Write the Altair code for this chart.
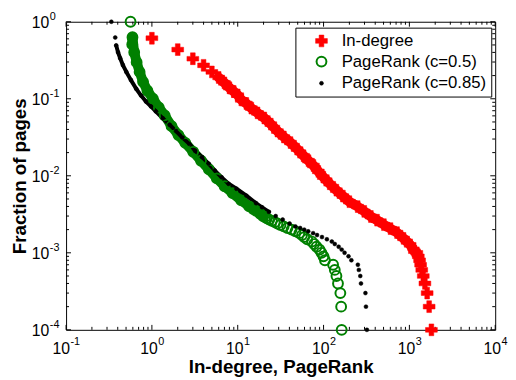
import altair as alt
import pandas as pd

FONT = "Liberation Sans"
series_names = ["In-degree", "PageRank (c=0.5)", "PageRank (c=0.85)"]

# In-degree (red plus): cumulative fraction of pages
indeg_x = [1, 2, 3, 4, 5, 6, 7, 8, 9, 10,
           11.0, 12.6, 14.4, 17.0, 20.4, 24.3, 29.0, 34.5, 41.2, 49.2, 58.5, 66.8, 76.2, 86.9, 99.3,
           118, 141, 168, 200, 250, 298, 356, 420, 505, 603, 718, 855, 1021, 1143,
           1222, 1271, 1315, 1352, 1394, 1452, 1517, 1611, 1699, 1806]
indeg_y = [0.611, 0.435, 0.331, 0.272, 0.223, 0.189, 0.161, 0.139, 0.124, 0.1115,
           0.0968, 0.0868, 0.0756, 0.0656, 0.0563, 0.0468, 0.0381, 0.0319, 0.0270, 0.0222, 0.0182,
           0.0157, 0.0136, 0.0114, 0.00962, 0.00788, 0.00650, 0.00545, 0.00461, 0.00398, 0.00345,
           0.00296, 0.00265, 0.00232, 0.00206, 0.00183, 0.00154, 0.00127, 0.00105,
           0.0010, 0.0009, 0.0008, 0.0007, 0.0006, 0.0005, 0.0004, 0.0003, 0.0002, 0.0001]

# PageRank c=0.5 (green circles)
pr05_x = [0.564, 0.594,
          0.590, 0.622, 0.664, 0.719, 0.789, 0.887, 1.026, 1.203, 1.409, 1.694, 2.038, 2.451,
          3.027, 3.739, 4.616, 5.70, 7.04, 8.69, 11.0, 13.6,
          15.2, 16.4, 18.3, 19.7, 20.8, 21.9, 23.3, 25.0, 27.0, 29.0, 31.5, 34.3, 38.0, 42.4,
          47.0, 52.2, 56.1, 59.6, 64.6, 73.1, 77.6, 82.9, 89.8, 94.6, 99.8, 103.8,
          129.2, 135.2, 141.3, 147.3, 157, 160.3, 162.6]
pr05_y = [1.0, 0.63,
          0.508, 0.402, 0.299, 0.223, 0.166, 0.127, 0.1006, 0.0771, 0.0610, 0.0441, 0.0338, 0.0267,
          0.0205, 0.0157, 0.0121, 0.00927, 0.00732, 0.00596, 0.0048, 0.0040,
          0.0037, 0.0035, 0.0032, 0.0030, 0.0029, 0.0028, 0.0027, 0.0026, 0.0025, 0.0024, 0.0023,
          0.0022, 0.0021, 0.0020, 0.0019, 0.0018, 0.0017, 0.0016, 0.0015, 0.0014, 0.0013, 0.0012,
          0.0011, 0.0010, 0.0009, 0.0008, 0.0007, 0.0006, 0.0005, 0.0004, 0.0003, 0.0002, 0.0001]

# PageRank c=0.85 (black dots)
pr085_x = [0.337, 0.374,
           0.384, 0.403, 0.427, 0.459, 0.504, 0.568, 0.656, 0.748, 0.853, 0.975, 1.111, 1.337,
           1.607, 1.909, 2.265, 2.725, 3.19, 3.84, 4.58, 5.41, 6.50, 7.83, 9.66, 12.6,
           16.4, 19.2, 23.1, 27.7, 33.4, 40.2, 47.0, 53.4, 59.6, 66.3, 75.6, 84.0, 95.9, 109.4,
           124.8, 135.2, 150, 162.6, 175.8, 195.4, 211, 251, 257.8, 268, 273, 307.6, 312, 320]
pr085_y = [1.0, 0.624,
           0.493, 0.402, 0.336, 0.274, 0.223, 0.176, 0.135, 0.110, 0.0921, 0.0795, 0.0686, 0.0558,
           0.0461, 0.0381, 0.0314, 0.0260, 0.0211, 0.0175, 0.0144, 0.0117, 0.00955, 0.00788,
           0.00680, 0.00553,
           0.0044, 0.0039, 0.0034, 0.0030, 0.0027, 0.0024, 0.0022, 0.0021, 0.0020, 0.0019, 0.0018,
           0.0017, 0.0016, 0.0015, 0.0014, 0.0013, 0.0012, 0.0011, 0.0010, 0.0009, 0.0008, 0.0007,
           0.0006, 0.0005, 0.0004, 0.0003, 0.0002, 0.0001]

x_major = [0.1, 1, 10, 100, 1000, 10000]
x_exp = ["-1", "0", "1", "2", "3", "4"]
y_major = [0.0001, 0.001, 0.01, 0.1, 1]
y_exp = ["-4", "-3", "-2", "-1", "0"]

W, H = 436, 313

x_minor = [d * m for d in x_major[:-1] for m in range(2, 10)]
y_minor = [d * m for d in y_major[:-1] for m in range(2, 10)]


def frame(xs, ys, name):
    return pd.DataFrame({"x": xs, "y": ys, "series": name})


pts = pd.concat([frame(indeg_x, indeg_y, series_names[0]),
                 frame(pr05_x, pr05_y, series_names[1]),
                 frame(pr085_x, pr085_y, series_names[2])], ignore_index=True)

band_ranges = [(series_names[0], 6, 1222, "#ff0000", 10),
               (series_names[1], 0.58, 20, "#008000", 10),
               (series_names[2], 0.38, 24, "#000000", 4)]

xscale = alt.Scale(type="log", domain=[0.1, 10000], nice=False)
yscale = alt.Scale(type="log", domain=[0.0001, 1], nice=False)

xaxis = alt.Axis(labels=False, ticks=False, domain=False, grid=False,
                 title="In-degree, PageRank", titleX=W / 2, titleY=43,
                 titleBaseline="alphabetic", titleAlign="center", titleFontSize=19,
                 titleFontWeight="bold", titleFont=FONT, titleColor="black")
yaxis = alt.Axis(labels=False, ticks=False, domain=False, grid=False,
                 title="Fraction of pages", titleAngle=270, titleX=-41, titleY=H / 2,
                 titleBaseline="alphabetic", titleAlign="center", titleFontSize=19,
                 titleFontWeight="bold", titleFont=FONT, titleColor="black")


def X(field):
    return alt.X(field, scale=xscale, axis=xaxis, title="In-degree, PageRank")


def Y(field):
    return alt.Y(field, scale=yscale, axis=yaxis, title="Fraction of pages")


layers = []


# inward ticks on all four sides
def tick_layer(vals, orient, length):
    d = pd.DataFrame({"v": vals})
    base = alt.Chart(d).mark_rule(color="black", strokeWidth=1)
    if orient == "bottom":
        return base.encode(x=X("v:Q"), y=alt.value(H), y2=alt.value(H - length))
    if orient == "top":
        return base.encode(x=X("v:Q"), y=alt.value(0), y2=alt.value(length))
    if orient == "left":
        return base.encode(y=Y("v:Q"), x=alt.value(0), x2=alt.value(length))
    return base.encode(y=Y("v:Q"), x=alt.value(W), x2=alt.value(W - length))


for o in ["bottom", "top"]:
    layers.append(tick_layer(x_major, o, 5))
    layers.append(tick_layer(x_minor, o, 3))
for o in ["left", "right"]:
    layers.append(tick_layer(y_major, o, 5))
    layers.append(tick_layer(y_minor, o, 3))

# dense parts of each curve
for name, lo, hi, col, sw in band_ranges:
    sub = pts[(pts.series == name) & (pts.x >= lo) & (pts.x <= hi)]
    layers.append(alt.Chart(sub).mark_line(color=col, strokeWidth=sw, strokeCap="round",
                                           strokeJoin="round").encode(x=X("x:Q"), y=Y("y:Q")))

leg = alt.Legend(title=None, orient="none", legendX=233, legendY=6, fillColor="white",
                 strokeColor="black", padding=5, labelFontSize=17, labelFont=FONT,
                 labelColor="black", symbolOffset=13, labelOffset=12, rowPadding=3, labelLimit=0)

points = alt.Chart(pts).mark_point(opacity=1).encode(
    x=X("x:Q"),
    y=Y("y:Q"),
    shape=alt.Shape("series:N", scale=alt.Scale(domain=series_names, range=["cross", "circle", "circle"]), legend=leg),
    fill=alt.Fill("series:N", scale=alt.Scale(domain=series_names, range=["#ff0000", "transparent", "#000000"]), legend=leg),
    stroke=alt.Stroke("series:N", scale=alt.Scale(domain=series_names, range=["#ff0000", "#008000", "#000000"]), legend=leg),
    size=alt.Size("series:N", scale=alt.Scale(type="ordinal", domain=series_names, range=[144, 100, 16]), legend=leg),
    strokeWidth=alt.StrokeWidth("series:N", scale=alt.Scale(type="ordinal", domain=series_names, range=[0.5, 2, 0.5]), legend=leg),
)
layers.append(points)

# tick labels: "10" with superscript exponent
xl = pd.DataFrame({"v": x_major, "base": ["10"] * len(x_major), "exp": x_exp})
for neg, dx in [(True, 4), (False, 6)]:
    sub = xl[xl.exp.str.startswith("-") == neg]
    layers.append(alt.Chart(sub).mark_text(align="right", baseline="alphabetic", dx=dx, fontSize=16,
                                           font=FONT, color="black").encode(
        x=X("v:Q"), y=alt.value(H + 24.5), text="base:N"))
    layers.append(alt.Chart(sub).mark_text(align="left", baseline="alphabetic", dx=dx + 0.5, fontSize=11,
                                           font=FONT, color="black").encode(
        x=X("v:Q"), y=alt.value(H + 15.5), text="exp:N"))

yl = pd.DataFrame({"v": y_major, "base": ["10"] * len(y_major), "exp": y_exp})
layers.append(alt.Chart(yl).mark_text(align="right", baseline="alphabetic", dy=6, fontSize=16,
                                      font=FONT, color="black").encode(
    y=Y("v:Q"), x=alt.value(-17), text="base:N"))
layers.append(alt.Chart(yl).mark_text(align="left", baseline="alphabetic", dy=-2, fontSize=11,
                                      font=FONT, color="black").encode(
    y=Y("v:Q"), x=alt.value(-16.5), text="exp:N"))

chart = alt.layer(*layers).properties(
    width=W, height=H,
    autosize=alt.AutoSizeParams(type="none"),
    padding={"left": 59, "top": 11, "right": 13, "bottom": 48},
    background="white",
).configure_view(stroke="black", strokeWidth=1)

chart.save("out.html", embed_options={"renderer": "svg", "actions": False})
